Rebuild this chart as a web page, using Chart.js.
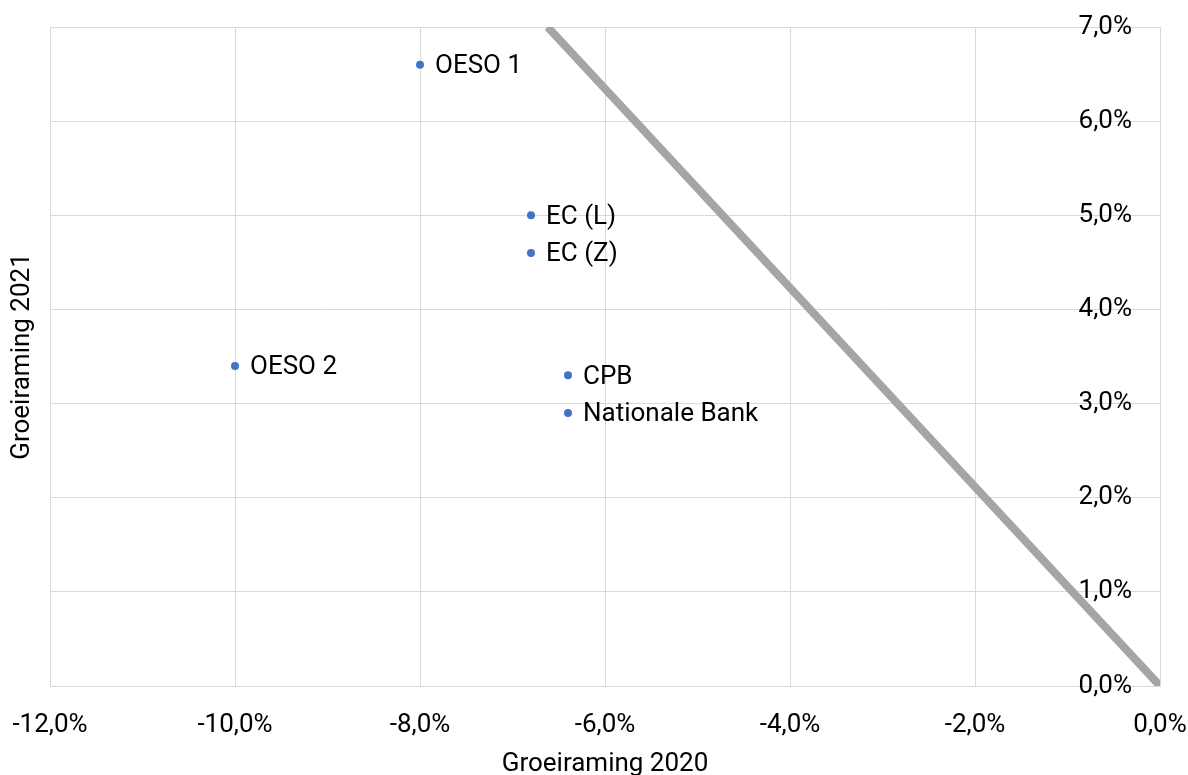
<!DOCTYPE html>
<html lang="nl">
<head>
<meta charset="UTF-8">
<title>Groeiramingen 2020 / 2021</title>
<script src="https://cdn.jsdelivr.net/npm/chart.js"></script>
<style>
  body { margin: 0; background: #fff; }
  .wrap { width: 1188px; height: 775px; }
</style>
</head>
<body>
<div class="wrap"><canvas id="chart"></canvas></div>
<script>
// ramingen per instelling (in procenten)
const names = ['OESO 1', 'OESO 2', 'EC (L)', 'EC (Z)', 'CPB', 'Nationale Bank'];
const groei2020 = [-8.0, -10.0, -6.8, -6.8, -6.4, -6.4];
const groei2021 = [6.6, 3.4, 5.0, 4.6, 3.3, 2.9];

// grijze lijn van linksboven naar de oorsprong
const lijnX = [-6.62, 0];
const lijnY = [7.0, 0];

const pct = v => v.toFixed(1).replace('.', ',') + '%';
const font = { family: 'Roboto', size: 26 };

// naam rechts naast elk punt
const pointLabels = {
  id: 'pointLabels',
  afterDatasetsDraw(chart) {
    const ctx = chart.ctx;
    const meta = chart.getDatasetMeta(1);
    ctx.save();
    ctx.font = '26px Roboto';
    ctx.fillStyle = '#000';
    ctx.textAlign = 'left';
    ctx.textBaseline = 'middle';
    meta.data.forEach((pt, i) => {
      ctx.fillText(names[i], pt.x + 15, pt.y + 2);
    });
    ctx.restore();
  }
};

new Chart(document.getElementById('chart'), {
  type: 'scatter',
  data: {
    datasets: [
      {
        type: 'line',
        data: lijnX.map((x, i) => ({ x, y: lijnY[i] })),
        borderColor: '#a5a5a5',
        borderWidth: 8,
        pointRadius: 0,
        fill: false
      },
      {
        data: groei2020.map((x, i) => ({ x, y: groei2021[i] })),
        backgroundColor: '#4472c4',
        borderWidth: 0,
        pointRadius: 4
      }
    ]
  },
  options: {
    responsive: true,
    maintainAspectRatio: false,
    animation: false,
    layout: { padding: { top: 27, right: 28, left: 0, bottom: 0 } },
    plugins: { legend: { display: false }, tooltip: { enabled: false } },
    scales: {
      x: {
        type: 'linear',
        min: -12, max: 0,
        ticks: { stepSize: 2, callback: pct, color: '#000', font, padding: 24 },
        grid: { color: '#d9d9d9', drawTicks: false },
        border: { color: '#d9d9d9' },
        title: { display: true, text: 'Groeiraming 2020', color: '#000', font, padding: { top: 0, bottom: -5 } },
        afterFit(s) { s.height = 89; s.paddingLeft = 0; s.paddingRight = 0; }
      },
      y: {
        type: 'linear',
        position: 'right',
        min: 0, max: 7,
        ticks: { stepSize: 1, callback: pct, color: '#000', font, mirror: true, padding: -28 },
        grid: { color: '#d9d9d9', drawTicks: false },
        border: { color: '#d9d9d9' },
        afterFit(s) { s.width = 0; s.paddingTop = 0; s.paddingBottom = 0; }
      },
      yTitel: {
        type: 'linear',
        position: 'left',
        min: 0, max: 7,
        ticks: { display: false },
        grid: { display: false, drawTicks: false },
        border: { display: false },
        title: { display: true, text: 'Groeiraming 2021', color: '#000', font, padding: { top: 7, bottom: 0 } },
        afterFit(s) { s.width = 50; }
      }
    }
  },
  plugins: [pointLabels]
});
</script>
</body>
</html>
